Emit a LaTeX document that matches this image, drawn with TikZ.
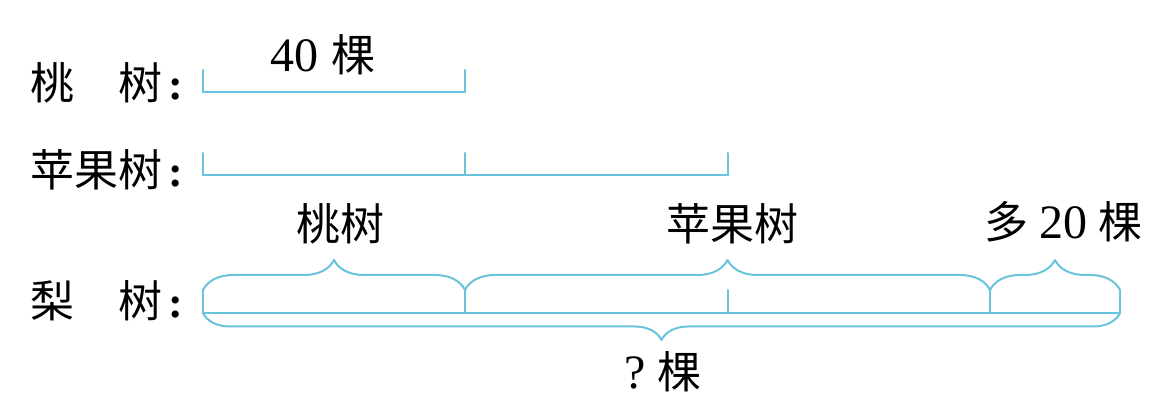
\documentclass[tikz,border=0pt]{standalone}
\usepackage{fontspec}
\setmainfont{Liberation Serif}
\newfontfamily\cjk{Noto Sans CJK SC}
\usetikzlibrary{decorations.pathreplacing}

\definecolor{barblue}{RGB}{105,195,220}
\newcommand\nm[1]{{\rmfamily\fontsize{24}{26}\selectfont #1}}
\newcommand\cln{\hspace{0.15em}{\rmfamily\bfseries :}}

\begin{document}
\begin{tikzpicture}[
  x=0.5pt,
  y=-0.5pt,
  line cap=round,
  line join=round,
  font=\fontsize{22}{26}\selectfont\cjk,
  bar/.style={barblue, line width=1pt},
  brc/.style={barblue, line width=1pt, decorate,
    decoration={brace, amplitude=#1}},
  rowlbl/.style={anchor=west, inner sep=0pt},
  lbl/.style={inner sep=0pt}
]
  \useasboundingbox (0,0) rectangle (1173,406);

  % row names
  \node[rowlbl] (peachname) at (30,83) {桃\hspace{1em}树\cln};
  \node[rowlbl] (applename) at (30,170) {苹果树\cln};
  \node[rowlbl] (pearname) at (30,301) {梨\hspace{1em}树\cln};

  % peach: one part
  \foreach \n/\x in {0/203,1/465} {
    \coordinate (pe\n) at (\x,92);
    \draw[bar] (pe\n) -- ++(0,-22);
  }
  \draw[bar] (pe0) -- (pe1);
  \node[lbl] (forty) at (323,55) {\nm{40}\hspace{0.3em}棵};

  % apple: two parts
  \foreach \n/\x in {0/203,1/465,2/728} {
    \coordinate (ap\n) at (\x,175);
    \draw[bar] (ap\n) -- ++(0,-22);
  }
  \draw[bar] (ap0) -- (ap2);

  % pear: peach + apple + 20
  \foreach \n/\x in {0/203,1/465,2/728,3/990,4/1120} {
    \coordinate (pr\n) at (\x,313);
    \coordinate (pu\n) at (\x,290);
    \draw[bar] (pr\n) -- (pu\n);
  }
  \draw[bar] (pr0) -- (pr4);
  \draw[brc=15pt] (pu0) -- (pu1);
  \draw[brc=15pt] (pu1) -- (pu3);
  \draw[brc=15pt] (pu3) -- (pu4);
  \draw[brc=13.5pt] (pr4) -- (pr0);

  \node[lbl] (peachpart) at (340,224) {桃树};
  \node[lbl] (applepart) at (732,224) {苹果树};
  \node[lbl] (morepart) at (1063,222) {多\hspace{0.25em}\nm{20}\hspace{0.25em}棵};
  \node[lbl] (total) at (663,372) {\nm{?}\hspace{0.25em}棵};
\end{tikzpicture}
\end{document}
